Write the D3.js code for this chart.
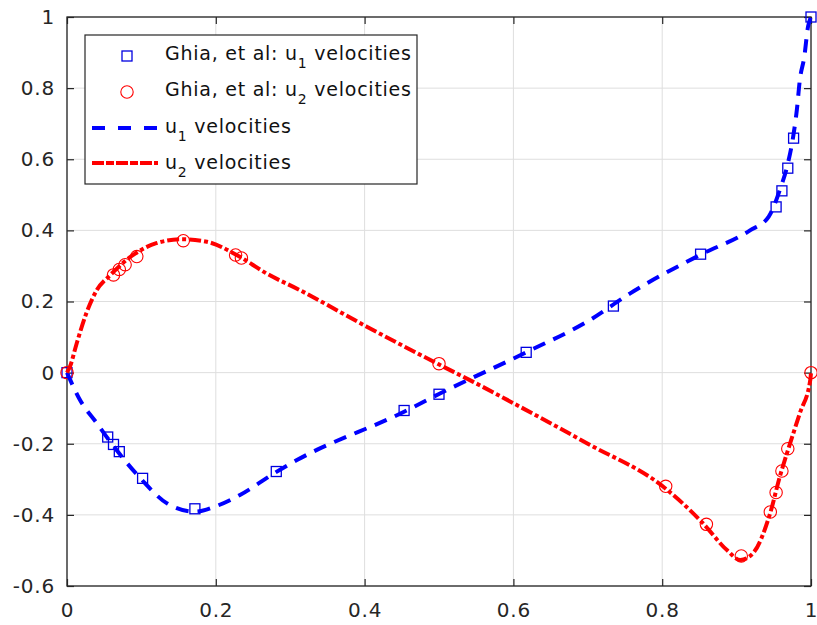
<!DOCTYPE html>
<html><head><meta charset="utf-8">
<script src="https://cdn.jsdelivr.net/npm/d3@7"></script>
<style>
html,body{margin:0;padding:0;background:#fff;}
svg{display:block;}
</style></head>
<body>
<script>
// Ghia et al. reference data (Re = 1000)
const ghiaY = [0, 0.0547, 0.0625, 0.0703, 0.1016, 0.1719, 0.2813, 0.4531, 0.5, 0.6172, 0.7344, 0.8516, 0.9531, 0.9609, 0.9688, 0.9766, 1];
const ghiaU = [0, -0.18109, -0.20196, -0.22220, -0.29730, -0.38289, -0.27805, -0.10648, -0.06080, 0.05702, 0.18719, 0.33304, 0.46604, 0.51117, 0.57492, 0.65928, 1];
const ghiaX = [0, 0.0625, 0.0703, 0.0781, 0.0938, 0.1563, 0.2266, 0.2344, 0.5, 0.8047, 0.8594, 0.9063, 0.9453, 0.9531, 0.9609, 0.9688, 1];
const ghiaV = [0, 0.27485, 0.29012, 0.30353, 0.32627, 0.37095, 0.33075, 0.32235, 0.02526, -0.31966, -0.42665, -0.51550, -0.39188, -0.33714, -0.27669, -0.21388, 0];

// Computed solution
const simUPos = [0, 0.0175, 0.04, 0.053, 0.1, 0.134, 0.172, 0.201, 0.2325, 0.28, 0.309, 0.4531, 0.5, 0.617, 0.703, 0.757, 0.851, 0.918, 0.943, 0.958, 0.969, 0.976, 0.981, 0.985, 0.991, 0.996, 1];
const simU    = [0, -0.077, -0.142, -0.18, -0.30, -0.367, -0.391, -0.375, -0.344, -0.281, -0.246, -0.11, -0.06, 0.057, 0.148, 0.223, 0.331, 0.40, 0.438, 0.513, 0.589, 0.663, 0.739, 0.823, 0.888, 0.973, 1];
const simVPos = [0, 0.004, 0.013, 0.026, 0.04, 0.058, 0.089, 0.12, 0.154, 0.188, 0.228, 0.268, 0.313, 0.403, 0.499, 0.546, 0.6, 0.7, 0.8015, 0.855, 0.887, 0.905, 0.922, 0.945, 0.958, 0.969, 0.985, 0.999, 1];
const simV    = [0, 0.017, 0.082, 0.167, 0.232, 0.274, 0.331, 0.364, 0.375, 0.368, 0.331, 0.279, 0.232, 0.129, 0.024, -0.026, -0.086, -0.2, -0.321, -0.424, -0.499, -0.527, -0.508, -0.396, -0.293, -0.218, -0.114, -0.021, 0];

const xTicks = [0, 0.2, 0.4, 0.6, 0.8, 1];
const xTickLabels = ["0", "0.2", "0.4", "0.6", "0.8", "1"];
const yTicks = [-0.6, -0.4, -0.2, 0, 0.2, 0.4, 0.6, 0.8, 1];
const yTickLabels = ["-0.6", "-0.4", "-0.2", "0", "0.2", "0.4", "0.6", "0.8", "1"];

const legendLabels = [
  {pre: "Ghia, et al: u", sub: "1", post: " velocities"},
  {pre: "Ghia, et al: u", sub: "2", post: " velocities"},
  {pre: "u", sub: "1", post: " velocities"},
  {pre: "u", sub: "2", post: " velocities"}
];

const W = 817, H = 625;
const L = 67, R = 811, T = 17, B = 586;
const FONT = "'DejaVu Sans', sans-serif";
const AX = "#262626";
const BLUE = "#0000ff", RED = "#ff0000";

const svg = d3.select("body").append("svg").attr("width", W).attr("height", H);
const x = d3.scaleLinear().domain([0, 1]).range([L, R]);
const y = d3.scaleLinear().domain([-0.6, 1]).range([B, T]);

// grid
const grid = svg.append("g");
grid.selectAll("line.gx").data(xTicks).join("line")
  .attr("x1", d => x(d)).attr("x2", d => x(d)).attr("y1", T).attr("y2", B)
  .attr("stroke", "#dedede").attr("stroke-width", 1);
grid.selectAll("line.gy").data(yTicks).join("line")
  .attr("y1", d => y(d)).attr("y2", d => y(d)).attr("x1", L).attr("x2", R)
  .attr("stroke", "#dedede").attr("stroke-width", 1);

// axes
function styleAxis(g) {
  g.select(".domain").remove();
  g.selectAll(".tick line").attr("stroke", AX).attr("stroke-width", 1.2);
  g.selectAll(".tick text").attr("fill", AX).attr("font-family", FONT).attr("font-size", 20)
    .attr("letter-spacing", 0.8);
}
const xb = svg.append("g").attr("transform", `translate(0,${B})`)
  .call(d3.axisBottom(x).tickValues(xTicks).tickFormat((d, i) => xTickLabels[i]).tickSizeInner(-7).tickSizeOuter(0).tickPadding(17));
styleAxis(xb);
const xt = svg.append("g").attr("transform", `translate(0,${T})`)
  .call(d3.axisTop(x).tickValues(xTicks).tickFormat("").tickSizeInner(-7).tickSizeOuter(0));
styleAxis(xt);
const yl = svg.append("g").attr("transform", `translate(${L},0)`)
  .call(d3.axisLeft(y).tickValues(yTicks).tickFormat((d, i) => yTickLabels[i]).tickSizeInner(-7).tickSizeOuter(0).tickPadding(12));
styleAxis(yl);
const yr = svg.append("g").attr("transform", `translate(${R},0)`)
  .call(d3.axisRight(y).tickValues(yTicks).tickFormat("").tickSizeInner(-7).tickSizeOuter(0));
styleAxis(yr);

svg.append("rect").attr("x", L).attr("y", T).attr("width", R - L).attr("height", B - T)
  .attr("fill", "none").attr("stroke", AX).attr("stroke-width", 1.3);

// markers
const uPts = ghiaY.map((p, i) => [p, ghiaU[i]]);
const vPts = ghiaX.map((p, i) => [p, ghiaV[i]]);
const S = 10;
svg.append("g").selectAll("rect").data(uPts).join("rect")
  .attr("x", d => x(d[0]) - S / 2).attr("y", d => y(d[1]) - S / 2)
  .attr("width", S).attr("height", S)
  .attr("fill", "none").attr("stroke", "#0000e0").attr("stroke-width", 1.3);
svg.append("g").selectAll("circle").data(vPts).join("circle")
  .attr("cx", d => x(d[0])).attr("cy", d => y(d[1])).attr("r", 6.2)
  .attr("fill", "none").attr("stroke", RED).attr("stroke-width", 1.1);

// lines
const line = d3.line().x(d => x(d[0])).y(d => y(d[1])).curve(d3.curveMonotoneX);
const sU = simUPos.map((p, i) => [p, simU[i]]);
const sV = simVPos.map((p, i) => [p, simV[i]]);
svg.append("path").datum(sU).attr("d", line)
  .attr("fill", "none").attr("stroke", BLUE).attr("stroke-width", 4)
  .attr("stroke-dasharray", "13,9");
svg.append("path").datum(sV).attr("d", line)
  .attr("fill", "none").attr("stroke", RED).attr("stroke-width", 4)
  .attr("stroke-dasharray", "12,3,4,3");

// legend
const lg = svg.append("g");
lg.append("rect").attr("x", 85).attr("y", 35).attr("width", 332).attr("height", 149)
  .attr("fill", "#fff").attr("stroke", AX).attr("stroke-width", 1.2);
const rowsY = [54, 90, 127, 163];
lg.append("rect").attr("x", 127 - S / 2).attr("y", rowsY[0] - S / 2 + 2).attr("width", S).attr("height", S)
  .attr("fill", "none").attr("stroke", "#0000e0").attr("stroke-width", 1.3);
lg.append("circle").attr("cx", 127).attr("cy", rowsY[1] + 2).attr("r", 6.2)
  .attr("fill", "none").attr("stroke", RED).attr("stroke-width", 1.1);
lg.append("line").attr("x1", 92).attr("x2", 158).attr("y1", rowsY[2] + 1).attr("y2", rowsY[2] + 1)
  .attr("stroke", BLUE).attr("stroke-width", 4).attr("stroke-dasharray", "13,13");
lg.append("line").attr("x1", 92).attr("x2", 158).attr("y1", rowsY[3]).attr("y2", rowsY[3])
  .attr("stroke", RED).attr("stroke-width", 4).attr("stroke-dasharray", "12,2,8,2");
legendLabels.forEach((lab, i) => {
  const t = lg.append("text").attr("x", 165).attr("y", rowsY[i] + 6)
    .attr("font-family", FONT).attr("font-size", 19).attr("fill", "#111")
    .attr("letter-spacing", 0.75);
  t.append("tspan").text(lab.pre);
  t.append("tspan").attr("dy", 8).attr("font-size", 14).text(lab.sub);
  t.append("tspan").attr("dy", -8).text(lab.post);
});
</script>
</body></html>
